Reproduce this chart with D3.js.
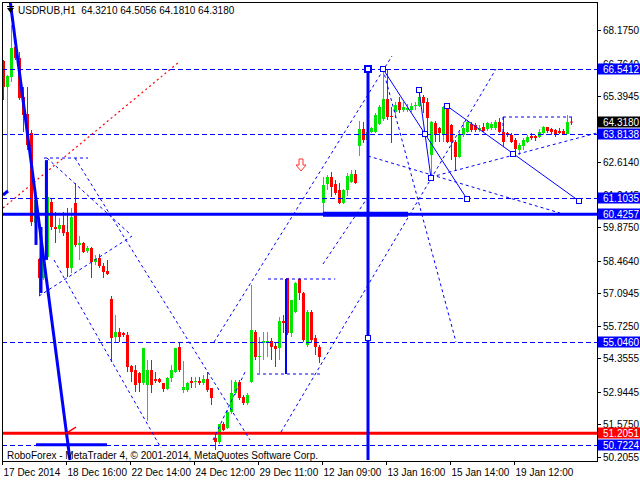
<!DOCTYPE html>
<html><head><meta charset="utf-8">
<script src="https://cdn.jsdelivr.net/npm/d3@7"></script>
<style>
body{margin:0;background:#fff}
svg{display:block}
text{font-family:"Liberation Sans",Arial,sans-serif;font-size:10px}
</style></head>
<body><svg id="c" width="640" height="480"></svg>
<script>
// ---------- data ----------
const symbol = "USDRUB,H1";
const lastOHLC = [64.3210, 64.5056, 64.1810, 64.3180];
const opens = [66.870,65.776,66.197,67.460,66.997,65.355,64.640,63.841,60.053,58.538,
57.739,58.622,60.937,59.885,59.801,59.969,59.674,58.159,60.895,59.127,
59.212,58.875,59.001,58.412,58.580,58.244,58.033,56.855,55.256,55.466,
55.424,55.340,54.035,53.867,53.741,53.320,53.236,53.867,53.488,53.488,
53.320,53.068,53.530,53.783,54.835,53.026,53.026,53.404,53.362,53.404,
53.320,53.488,53.110,51.006,50.837,51.595,51.426,52.099,52.899,53.362,
52.731,52.478,53.362,55.466,54.414,55.003,55.003,55.087,54.877,54.793,
55.929,57.739,55.424,56.308,57.697,57.107,54.919,56.308,55.214,54.835,
60.895,61.694,61.989,61.694,61.442,60.895,61.442,61.778,62.115,63.294,
64.009,63.546,63.883,63.883,64.219,64.430,65.271,64.556,64.724,65.145,
64.808,64.808,64.808,64.977,64.977,65.355,65.145,62.915,64.261,64.051,
63.799,64.977,64.177,63.462,62.831,63.757,63.883,64.219,64.177,63.967,
64.093,64.009,64.051,64.051,64.304,63.883,63.841,63.757,63.546,63.125,
63.294,63.462,63.714,63.714,63.672,63.841,64.093,64.009,63.967,63.925,
63.925,63.799,64.321];
const highs = [66.912,66.281,68.385,67.670,67.249,65.776,65.776,63.967,61.231,58.580,
58.706,62.704,61.063,60.516,60.264,60.516,60.684,60.684,61.736,59.506,
59.254,59.085,59.043,58.706,58.748,58.370,58.496,56.981,56.182,55.635,
55.466,55.466,54.077,54.077,53.783,54.793,54.288,54.288,53.783,53.530,
53.320,53.572,54.077,54.793,55.003,54.246,53.362,53.572,53.572,53.572,
53.656,53.783,53.110,51.174,51.595,51.679,52.184,53.446,53.446,53.446,
52.815,52.899,57.444,55.550,55.256,55.466,55.466,55.214,55.003,56.097,
56.182,57.739,56.813,57.570,57.739,57.149,56.392,56.392,55.340,54.919,
61.989,62.073,62.199,61.863,61.736,61.484,62.157,62.283,62.283,64.346,
64.304,64.051,64.093,64.682,65.019,66.534,66.492,64.935,65.145,65.355,
65.145,65.061,65.103,65.145,65.650,65.440,65.313,64.346,64.346,64.093,
64.977,64.977,64.219,63.546,63.883,64.304,64.388,64.304,64.261,64.177,
64.261,64.304,64.304,64.388,64.472,64.514,63.883,63.841,63.630,63.420,
63.630,63.757,63.841,63.757,64.009,64.135,64.093,64.051,64.009,64.051,
64.009,64.598,64.5056];
const lows = [65.229,61.358,65.987,66.912,65.229,63.883,63.125,59.927,59.127,56.981,
57.655,58.496,59.759,59.212,59.632,59.506,57.781,57.949,59.043,58.496,
58.791,58.791,57.739,58.286,58.159,57.739,57.865,54.204,55.045,55.045,
55.256,53.783,53.362,52.941,52.941,53.236,51.721,52.899,53.320,53.320,
52.941,53.026,53.362,53.741,53.783,52.899,52.941,53.110,53.110,53.236,
53.236,52.941,52.394,50.500,50.753,51.300,51.384,52.015,52.815,52.605,
52.394,52.394,53.320,54.288,53.741,54.288,54.414,54.288,53.993,54.288,
55.424,55.340,55.256,56.266,56.813,55.045,54.835,55.003,54.498,54.162,
60.474,61.442,61.147,61.232,60.853,60.853,61.190,61.736,61.694,62.873,
63.420,63.251,63.841,63.841,64.177,64.346,64.388,63.420,64.472,64.682,
64.724,64.724,64.724,64.808,64.935,64.682,63.841,61.947,63.462,63.462,
63.462,63.420,62.704,62.283,62.789,63.672,63.841,63.883,63.883,63.883,
63.883,63.925,63.967,63.967,63.841,63.251,63.672,63.420,62.915,62.915,
63.125,63.420,63.546,63.504,63.630,63.757,63.841,63.757,63.672,63.799,
63.757,63.799,64.181];
const closes = [65.776,66.239,67.418,66.997,65.313,64.598,63.336,60.095,61.021,57.739,
58.622,61.147,59.885,59.801,59.969,59.632,58.159,60.306,59.127,59.212,
58.833,59.001,58.412,58.538,58.244,57.991,57.907,55.214,55.466,55.256,
55.340,53.993,53.783,53.236,53.320,54.793,53.867,53.236,53.404,53.362,
53.068,53.530,53.867,54.793,53.867,53.152,53.320,53.320,53.404,53.320,
53.488,53.026,52.689,50.837,51.595,51.342,52.099,52.899,53.362,52.689,
52.478,52.815,55.550,54.414,54.456,55.087,55.087,54.835,54.751,55.929,
55.845,55.424,56.813,57.528,57.107,55.129,56.308,55.129,54.835,54.414,
61.652,61.989,61.568,61.316,60.895,61.442,62.031,62.115,61.736,64.009,
63.546,63.883,64.051,64.598,64.935,65.271,64.514,64.514,65.019,64.808,
64.935,64.892,64.977,65.019,65.355,65.103,64.472,64.304,63.799,63.841,
64.935,63.462,63.462,62.831,63.799,64.051,64.304,63.967,63.967,64.051,
63.925,64.261,64.219,64.304,63.883,63.462,63.757,63.462,63.167,63.336,
63.546,63.672,63.630,63.630,63.883,64.093,63.925,63.883,63.799,63.841,
63.799,64.304,64.318];

const xTickBars   = [0,16,32,48,64,80,96,112,128];
const xTickLabels = ["17 Dec 2014","18 Dec 16:00","22 Dec 14:00","24 Dec 12:00","29 Dec 11:00",
                     "12 Jan 09:00","13 Jan 16:00","15 Jan 14:00","19 Jan 12:00"];
// 64.0250 tick is fully covered by the price boxes in the reference, so only its mark is drawn
const yTicks = [68.1750,66.7640,65.3945,64.0250,62.6140,61.2445,59.8750,58.4640,
                57.0945,55.7250,54.3555,52.9445,51.5750,50.2055];
const yTickHidden = [64.0250];

const dashedLevels = [66.5412, 63.8138, 61.1035, 55.0460, 50.7224];
const supportLevel = 60.4257;
const redLevel = 51.2051;

// drawn analysis objects: [barIndex, price] pairs
const redDotted = [[[-0.05,60.684],[43.95,66.828]]];
const dashedLines = [
  [[10.2,62.788],[21.2,62.788]],
  [[10.95,62.788],[31.7,59.590]],
  [[8.95,56.981],[32.2,59.506]],
  [[17.95,62.788],[61.7,50.921]],
  [[12.7,58.496],[39.45,50.585]],
  [[52.7,55.045],[97.2,67.081]],
  [[52.45,50.921],[60.45,53.783]],
  [[69.45,51.258],[123.2,66.534]],
  [[79.95,58.328],[91.2,61.147]],
  [[66.2,57.697],[83,57.697]],
  [[63.45,53.699],[79.2,53.699]],
  [[94.95,66.534],[113.2,55.045]],
  [[91.2,62.873],[139.2,60.474]],
  [[106.95,61.989],[148.45,63.841]],
  [[124.95,64.514],[142.2,64.514]],
  [[124.95,64.514],[124.95,63.841]]
];
const thinSolid = [
  [[94.95,66.534],[115.95,61.063]],
  [[103.95,65.650],[106.95,61.947]],
  [[110.95,64.977],[143.95,60.979]]
];
const boxVertical = [[[70.7,57.697],[70.7,53.699]]];
const thickSolid = [
  [[1.7,69.4375],[16.7,50.08]],
  [[-0.05,61.231],[1.2,61.40]],
  [[8.2,61.02],[8.2,59.13]],
  [[9.45,59.885],[9.45,57.107]],
  [[10.8,62.70],[10.8,58.50]],
  [[8.2,50.7224],[25.95,50.7224]],
  [[91.2,66.5412],[91.2,50.08]]
];
const thickerSolid = [[[79.95,60.4257],[101.2,60.4257]]];
const redTick = [[[15.7,51.2051],[18.2,51.468]]];
const squareMarks = [[94.95,66.534],[103.95,65.650],[105.45,63.798],[106.95,61.947],
  [110.95,64.977],[115.95,61.063],[127.45,62.957],[143.95,60.979],[91.2,55.214]];
const bigSquare = [91.2, 66.5412];
const arrowAt = [74.45, 62.49];

const axisBoxes = [
  {v:66.5412, c:"#0000ff"},{v:64.3180, c:"#000000"},{v:63.8138, c:"#0000ff"},
  {v:61.1035, c:"#0000ff"},{v:60.4257, c:"#0000ff"},{v:55.0460, c:"#0000ff"},
  {v:51.2051, c:"#ff0000"},{v:50.7224, c:"#0000ff"}];

// ---------- scales ----------
const svg = d3.select("#c");
const PL=2, PT=2, PR=597, PB=461;
const x = d3.scaleLinear().domain([-0.8,148.45]).range([0,597]);
const y = d3.scaleLinear().domain([50.0805,69.4375]).range([460,0]);
const fmt = d3.format(".4f");
const blue="#0000ff", red="#ff0000", green="#00e600";

svg.append("rect").attr("width",640).attr("height",480).attr("fill","#fff");
const defs = svg.append("defs");
defs.append("clipPath").attr("id","clip")
  .append("rect").attr("x",PL).attr("y",PT).attr("width",PR-PL).attr("height",PB-PT);

const plot = svg.append("g").attr("clip-path","url(#clip)");

// candles
const bars = d3.range(opens.length).map(i=>({i,o:opens[i],h:highs[i],l:lows[i],c:closes[i]}));
const cg = plot.append("g");
bars.forEach(b=>{
  const cx = Math.round(x(b.i));
  const col = b.c>=b.o && b.i!==bars.length-1 ? green : red;
  cg.append("line").attr("x1",cx+0.5).attr("x2",cx+0.5)
    .attr("y1",y(b.h)).attr("y2",y(b.l)).attr("stroke",col).attr("stroke-width",1);
  const top=Math.min(y(b.o),y(b.c)), bot=Math.max(y(b.o),y(b.c));
  cg.append("rect").attr("x",cx-1).attr("width",3)
    .attr("y",top).attr("height",Math.max(1,bot-top)).attr("fill",col);
});

const line = d3.line().x(d=>x(d[0])).y(d=>y(d[1]));

// horizontal levels
dashedLevels.forEach(v=>{
  plot.append("line").attr("x1",PL).attr("x2",PR).attr("y1",Math.round(y(v))+0.5).attr("y2",Math.round(y(v))+0.5)
    .attr("stroke",blue).attr("stroke-width",1).attr("stroke-dasharray","5,3");
});
plot.append("line").attr("x1",PL).attr("x2",PR).attr("y1",y(supportLevel)).attr("y2",y(supportLevel))
  .attr("stroke",blue).attr("stroke-width",3);
plot.append("line").attr("x1",PL).attr("x2",PR).attr("y1",y(redLevel)).attr("y2",y(redLevel))
  .attr("stroke",red).attr("stroke-width",3);

function drawSet(set, stroke, width, dash){
  set.forEach(pts=>{
    const p = plot.append("path").attr("d",line(pts)).attr("fill","none")
      .attr("stroke",stroke).attr("stroke-width",width);
    if(dash) p.attr("stroke-dasharray",dash);
  });
}
drawSet(redDotted, red, 1.2, "2,3");
drawSet(dashedLines, blue, 1, "3,3");
drawSet(thinSolid, blue, 1, null);
drawSet(boxVertical, blue, 2, null);
drawSet(thickSolid, blue, 3, null);
drawSet(thickerSolid, blue, 5, null);
drawSet(redTick, red, 1.5, null);

squareMarks.forEach(d=>{
  plot.append("rect").attr("x",Math.round(x(d[0]))-2.5).attr("y",Math.round(y(d[1]))-2.5)
    .attr("width",5).attr("height",5).attr("fill","#fff").attr("stroke",blue).attr("stroke-width",1);
});
plot.append("rect").attr("x",Math.round(x(bigSquare[0]))-3).attr("y",Math.round(y(bigSquare[1]))-3)
  .attr("width",6).attr("height",6).attr("fill","#fff").attr("stroke",blue).attr("stroke-width",2);

// down arrow
{
  const ax=Math.round(x(arrowAt[0])), ay=Math.round(y(arrowAt[1]));
  const p=`M${ax-2},${ay-6}L${ax+2},${ay-6}L${ax+2},${ay}L${ax+5},${ay}L${ax},${ay+6}L${ax-5},${ay}L${ax-2},${ay}Z`;
  plot.append("path").attr("d",p).attr("fill","#fff").attr("stroke","#ff3030").attr("stroke-width",1);
}

// frame
svg.append("rect").attr("x",PL+0.5).attr("y",PT+0.5).attr("width",PR-PL).attr("height",PB-PT)
  .attr("fill","none").attr("stroke","#000").attr("stroke-width",1);

// y ticks
yTicks.forEach(v=>{
  const yy=Math.round(y(v))+0.5;
  svg.append("line").attr("x1",PR).attr("x2",PR+4).attr("y1",yy).attr("y2",yy).attr("stroke","#000");
  if(!yTickHidden.includes(v))
    svg.append("text").attr("x",603).attr("y",yy+3).attr("fill","#000").text(fmt(v));
});
// x ticks
xTickBars.forEach((b,k)=>{
  const xx=Math.round(x(b))-0.5;
  svg.append("line").attr("x1",xx).attr("x2",xx).attr("y1",PB).attr("y2",PB+4).attr("stroke","#000");
  svg.append("text").attr("x",xx+1).attr("y",476).attr("fill","#000").text(xTickLabels[k]);
});

// axis price boxes
axisBoxes.forEach(d=>{
  const yy=Math.round(y(d.v));
  svg.append("rect").attr("x",598).attr("y",yy-5.5).attr("width",42).attr("height",11).attr("fill",d.c);
  svg.append("text").attr("x",603).attr("y",yy+4).attr("fill","#fff").text(fmt(d.v));
});

// title
svg.append("path").attr("d","M7,8L14,8L10.5,13Z").attr("fill","#000");
svg.append("line").attr("x1",7).attr("x2",14).attr("y1",6.5).attr("y2",6.5).attr("stroke","#000");
svg.append("text").attr("x",18).attr("y",14).attr("fill","#000")
  .attr("xml:space","preserve").text(symbol+"  "+lastOHLC.map(fmt).join(" "));
// footer
svg.append("text").attr("x",7).attr("y",459).attr("fill","#000")
  .text("RoboForex - MetaTrader 4, © 2001-2014, MetaQuotes Software Corp.");
</script></body></html>
